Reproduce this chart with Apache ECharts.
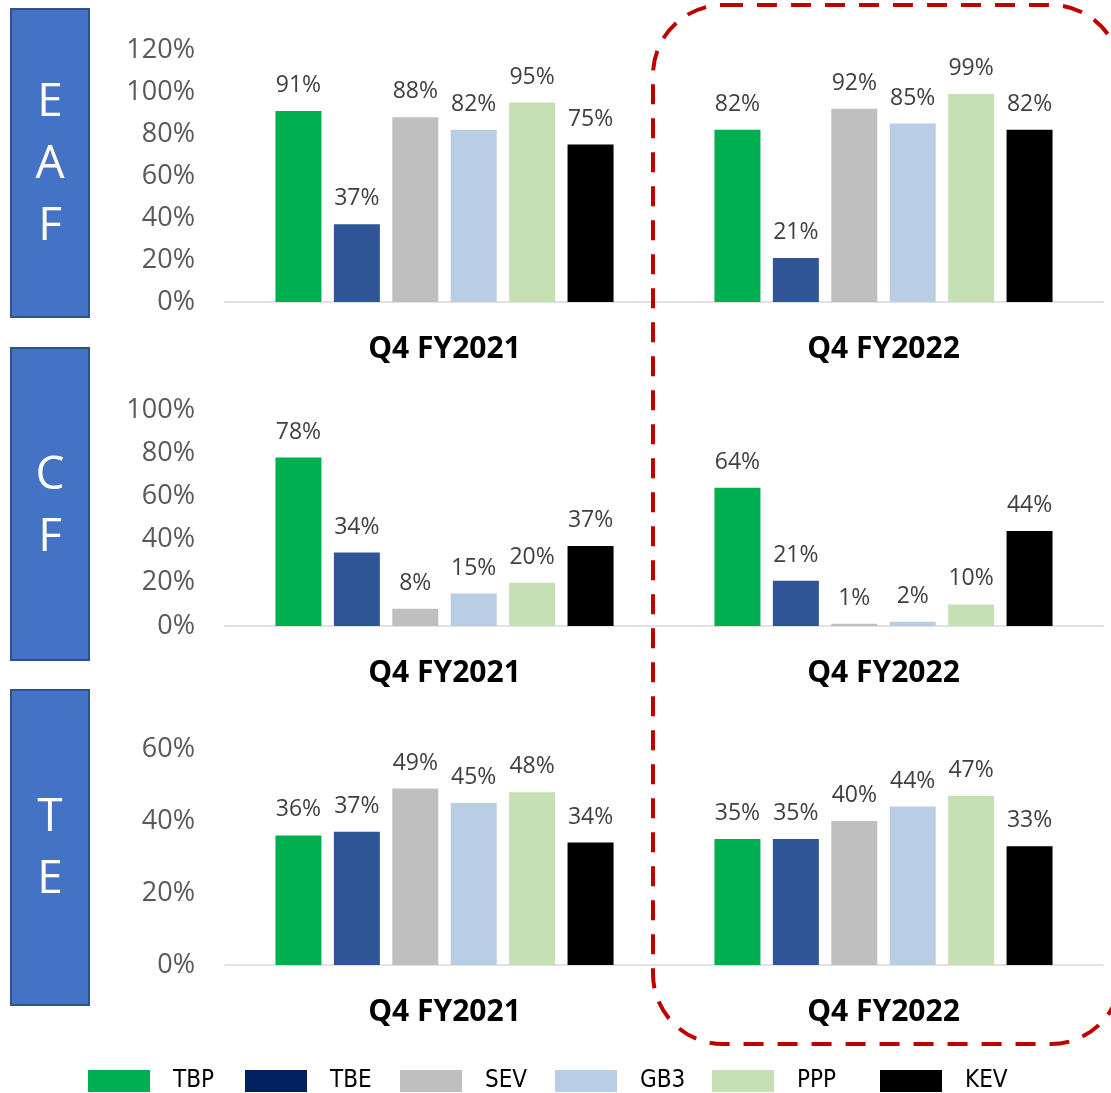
<!DOCTYPE html>
<html><head><meta charset="utf-8">
<script src="https://cdn.jsdelivr.net/npm/echarts@6/dist/echarts.min.js"></script>
<style>html,body{margin:0;padding:0;background:#fff}#c{width:1111px;height:1093px}</style>
</head><body><div id="c"></div>
<script>
const categories = ['Q4 FY2021', 'Q4 FY2022'];
const seriesNames = ['TBP', 'TBE', 'SEV', 'GB3', 'PPP', 'KEV'];
const rowLabels = ['EAF', 'CF', 'TE'];
// values per series: [FY2021, FY2022]
const eafValues = [[91, 82], [37, 21], [88, 92], [82, 85], [95, 99], [75, 82]];
const cfValues  = [[78, 64], [34, 21], [8, 1], [15, 2], [20, 10], [37, 44]];
const teValues  = [[36, 35], [37, 35], [49, 40], [45, 44], [48, 47], [34, 33]];
const yMax = [120, 100, 60];

const colors = ['#00B050', '#2F5597', '#BFBFBF', '#B9CDE5', '#C5E0B4', '#000000'];
const legendColors = ['#00B050', '#002060', '#BFBFBF', '#B9CDE5', '#C5E0B4', '#000000'];
const rows = [eafValues, cfValues, teValues];
const gridTops = [50, 410, 749];
const gridHeights = [252, 216, 216];
const boxes = [{y: 9, h: 308}, {y: 348, h: 312}, {y: 690, h: 315}];
const letterY = [[103, 165, 227], [476, 538], [818, 880]];

const grids = [], xAxes = [], yAxes = [], series = [];
rows.forEach((vals, r) => {
  grids.push({left: 225, right: 8, top: gridTops[r], height: gridHeights[r]});
  xAxes.push({type: 'category', gridIndex: r, data: categories,
    axisLine: {lineStyle: {color: '#D9D9D9', width: 1.5}}, axisTick: {show: false},
    axisLabel: {color: '#000', fontWeight: 'bold', fontSize: 30, fontFamily: 'Open Sans', margin: 32}});
  yAxes.push({type: 'value', gridIndex: r, min: 0, max: yMax[r], interval: 20,
    splitLine: {show: false}, axisLine: {show: false}, axisTick: {show: false},
    axisLabel: {formatter: '{value}%', color: '#595959', fontSize: 27, fontFamily: 'Open Sans', margin: 30}});
  seriesNames.forEach((n, i) => {
    series.push({type: 'bar', name: n, xAxisIndex: r, yAxisIndex: r, data: vals[i],
      barWidth: 46, barGap: '27%', itemStyle: {color: colors[i]},
      label: {show: true, position: 'top', distance: 14, formatter: '{c}%', color: '#404040', fontSize: 23, fontFamily: 'Open Sans'}});
  });
});

const legendLeft = [88, 245, 400, 555, 712, 880];
const legends = seriesNames.map((n, i) => ({
  left: legendLeft[i], top: 1069, padding: 0, itemWidth: 62, itemHeight: 22, icon: 'rect',
  data: [{name: n, itemStyle: {color: legendColors[i]}}],
  textStyle: {color: '#000', fontSize: 24, fontFamily: "'Liberation Sans Narrow','DejaVu Sans Condensed','Liberation Sans',sans-serif", padding: [0, 0, 0, 18]}
}));

const graphics = [];
boxes.forEach((b, r) => {
  graphics.push({type: 'rect', shape: {x: 11, y: b.y, width: 78, height: b.h},
    style: {fill: '#4472C4', stroke: '#2F528F', lineWidth: 2}, z: 1});
  rowLabels[r].split('').forEach((ch, k) => {
    graphics.push({type: 'text', x: 50, y: letterY[r][k],
      style: {text: ch, fill: '#fff', font: '46px "Open Sans"', textAlign: 'center', textVerticalAlign: 'middle'}, z: 2});
  });
});
graphics.push({type: 'rect', shape: {x: 653, y: 5, width: 468, height: 1039, r: 70},
  style: {fill: 'none', stroke: '#C00000', lineWidth: 4, lineDash: [20, 14]}, z: 100});

const chart = echarts.init(document.getElementById('c'));
chart.setOption({
  animation: false,
  grid: grids, xAxis: xAxes, yAxis: yAxes, series: series,
  legend: legends, graphic: graphics
});
</script></body></html>
